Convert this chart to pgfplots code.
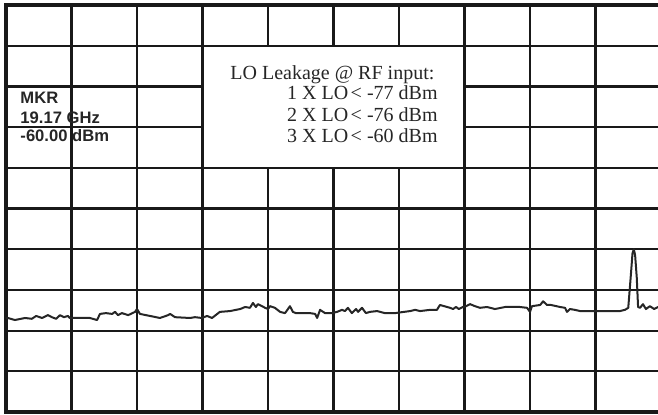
\documentclass[border=0pt]{standalone}
\usepackage{fontspec}
\setmainfont{Liberation Serif}
\setsansfont{Liberation Sans}
\usepackage{pgfplots}
\pgfplotsset{compat=1.18}
\begin{document}
\begin{tikzpicture}
\useasboundingbox (0,0) rectangle (329pt,207pt);
\begin{axis}[
  at={(3pt,1pt)}, anchor=south west,
  scale only axis, width=327.5pt, height=203.5pt,
  xmin=0, xmax=20, ymin=-100, ymax=0,
  xtick={0,2,...,20}, ytick={-100,-90,...,0},
  xticklabels={}, yticklabels={},
  tick style={draw=none},
  grid=major,
  major grid style={draw=black!90, line width=1.1pt},
  axis line style={draw=black!90, line width=1.6pt},
]
\addplot[black!85, line width=1pt, line join=round] coordinates {
(0.00,-77.0) (0.06,-76.9) (0.27,-77.4) (0.58,-76.9) (0.79,-77.1) (0.92,-76.4)
(1.10,-76.9) (1.28,-76.2) (1.40,-76.7) (1.53,-77.1) (1.65,-76.2) (1.77,-76.7)
(1.89,-76.4) (1.95,-76.9) (2.26,-76.9) (2.56,-76.9) (2.78,-77.4) (2.87,-75.9)
(3.05,-75.7) (3.24,-75.9) (3.33,-75.4) (3.42,-76.2) (3.54,-75.7) (3.73,-76.2)
(3.94,-75.4) (4.00,-74.7) (4.09,-75.9) (4.40,-76.4) (4.70,-76.9) (4.95,-76.2)
(5.01,-75.9) (5.16,-76.7) (5.62,-76.9) (5.77,-76.7) (5.98,-76.9) (6.14,-76.4)
(6.29,-76.9) (6.53,-75.4) (6.84,-75.2) (7.15,-74.7) (7.30,-74.2) (7.45,-74.4)
(7.54,-73.2) (7.63,-74.2) (7.69,-73.5) (7.82,-74.0) (7.91,-74.4) (8.00,-74.7)
(8.06,-74.0) (8.21,-74.4) (8.37,-75.4) (8.52,-75.7) (8.61,-74.7) (8.67,-74.0)
(8.76,-75.4) (8.85,-75.7) (8.98,-75.7) (9.28,-75.7) (9.44,-75.9) (9.50,-76.9)
(9.59,-74.9) (9.74,-75.7) (9.95,-75.7) (10.11,-75.4) (10.26,-74.9) (10.35,-75.2)
(10.44,-74.4) (10.56,-75.7) (10.69,-74.7) (10.75,-75.4) (10.87,-74.4) (10.99,-75.7)
(11.11,-75.4) (11.33,-75.2) (11.57,-75.7) (11.88,-75.7) (12.15,-75.4) (12.34,-75.2)
(12.49,-74.9) (12.64,-75.2) (12.95,-74.9) (13.16,-74.9) (13.25,-73.7) (13.47,-74.2)
(13.56,-74.4) (13.65,-74.7) (13.74,-74.2) (13.83,-74.7) (13.95,-74.2) (14.05,-74.0)
(14.17,-73.5) (14.32,-74.0) (14.47,-74.4) (14.69,-74.2) (14.93,-74.7) (15.24,-74.2)
(15.69,-74.2) (15.91,-74.4) (16.00,-75.4) (16.06,-74.0) (16.31,-73.7) (16.40,-72.8)
(16.52,-73.7) (16.64,-73.7) (16.92,-74.2) (17.07,-74.4) (17.13,-75.4) (17.22,-74.7)
(17.37,-74.9) (17.53,-75.2) (17.98,-75.2) (18.44,-75.2) (18.75,-75.2) (18.90,-74.9)
(19.00,-74.4) (19.08,-66.3) (19.13,-61.0) (19.17,-60.0) (19.21,-61.5) (19.26,-67.0)
(19.30,-74.2) (19.36,-74.4) (19.45,-73.5) (19.54,-74.7) (19.66,-74.0) (19.79,-74.7)
(19.91,-74.2) (20.00,-74.4)
};
\fill[white] (axis cs:6,-40) rectangle (axis cs:14,-10);
\draw[black!90, line width=1.1pt] (axis cs:6,-40) rectangle (axis cs:14,-10);
\node[anchor=base west, inner sep=0pt, font=\fontsize{10}{12}\selectfont, text=black!85]
  at (axis cs:6.84,-18.3) {LO Leakage @ RF input:};
\node[anchor=base east, inner sep=0pt, font=\fontsize{10}{12}\selectfont, text=black!85]
  at (axis cs:13.19,-23.3) {1 X LO\hspace{0.12em}< -77 dBm};
\node[anchor=base east, inner sep=0pt, font=\fontsize{10}{12}\selectfont, text=black!85]
  at (axis cs:13.19,-28.6) {2 X LO\hspace{0.12em}< -76 dBm};
\node[anchor=base east, inner sep=0pt, font=\fontsize{10}{12}\selectfont, text=black!85]
  at (axis cs:13.19,-33.9) {3 X LO\hspace{0.12em}< -60 dBm};
\node[anchor=base west, inner sep=0pt, font=\sffamily\bfseries\fontsize{8.3}{10}\selectfont, text=black!85]
  at (axis cs:0.43,-24.3) {MKR};
\node[anchor=base west, inner sep=0pt, font=\sffamily\bfseries\fontsize{8.3}{10}\selectfont, text=black!85]
  at (axis cs:0.43,-29.0) {19.17 GHz};
\node[anchor=base west, inner sep=0pt, font=\sffamily\bfseries\fontsize{8.3}{10}\selectfont, text=black!85]
  at (axis cs:0.43,-33.6) {-60.00 dBm};
\end{axis}
\end{tikzpicture}
\end{document}
